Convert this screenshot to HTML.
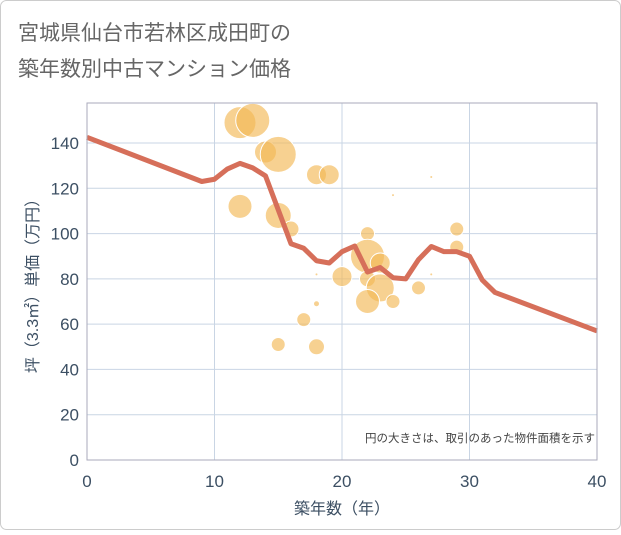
<!DOCTYPE html>
<html><head><meta charset="utf-8"><style>
body{margin:0;background:#fff;}
svg{font-family:"Liberation Sans","Noto Sans CJK JP",sans-serif;}
</style></head><body>
<svg width="621" height="530">
<rect x="0.5" y="0.5" width="620" height="529" rx="6" fill="#fff" stroke="#ccc"/>
<text x="18" y="40" font-size="21" fill="#666">宮城県仙台市若林区成田町の</text>
<text x="18" y="76" font-size="21" fill="#666">築年数別中古マンション価格</text>
<g id="grid"></g>
<g id="bubbles"></g>
<g id="line"></g>
<g id="axes"></g>
<text x="595" y="442" font-size="11.5" fill="#444" text-anchor="end">円の大きさは、取引のあった物件面積を示す</text>
<text x="342" y="514" font-size="16" fill="#3c4f63" text-anchor="middle">築年数（年）</text>
<text transform="translate(38,282) rotate(-90)" font-size="16" fill="#3c4f63" text-anchor="middle">坪（3.3㎡）単価（万円）</text>
</svg>
<script>
const xTicks=[0,10,20,30,40];
const yTicks=[0,20,40,60,80,100,120,140];
const lineX=[0,9,10,11,12,13,14,16,17,18,19,20,21,22,23,24,25,26,27,28,29,30,31,32,40];
const lineY=[142.5,123,124,128.5,131,129,125.5,95.5,93.5,88,87,92,94.5,83,85,80.5,80,88.5,94.3,92,92,90,79.5,74,57];
const bubX=[12,13,14,15,18,19,12,15,16,22,29,29,22,23,20,22,23,22,24,26,17,15,18,18,18,24,27,27];
const bubY=[149,150,136,135,126,126,112,108,102,100,102,94,90,87,81,80,76,70,70,76,62,51,50,69,82,117,125,82];
const bubR=[16,17,11,18,10,10,12,13,8,7,7,7,17,10,10,8,14,12,7,7,7,7,8,2.5,1,1,1,1];
const X0=87,X1=597,Y0=460,Ytop=103;
const sx=v=>X0+v*(X1-X0)/40;
const sy=v=>Y0-v*(460-143)/140;
const NS="http://www.w3.org/2000/svg";
function mk(t,a,p){const e=document.createElementNS(NS,t);for(const k in a)e.setAttribute(k,a[k]);p.appendChild(e);return e;}
const g=document.getElementById('grid'),ax=document.getElementById('axes');
yTicks.forEach(v=>{const l=mk('line',{x1:X0,x2:X1,y1:sy(v),y2:sy(v),stroke:'#c9d5e4','stroke-width':1},g);


const t=mk('text',{x:X0-8,y:sy(v)+6,'font-size':17,fill:'#3c4f63','text-anchor':'end'},ax);t.textContent=v;

});
xTicks.forEach(v=>{const l=mk('line',{x1:sx(v),x2:sx(v),y1:Ytop,y2:Y0,stroke:'#c9d5e4','stroke-width':1},g);


const t=mk('text',{x:sx(v),y:Y0+27,'font-size':17,fill:'#3c4f63','text-anchor':'middle'},ax);t.textContent=v;

});
const fr=mk('rect',{x:X0,y:Ytop,width:X1-X0,height:Y0-Ytop,fill:'none',stroke:'#aab','stroke-width':1},ax);


const b=document.getElementById('bubbles');
bubX.forEach((v,i)=>{const c=mk('circle',{cx:sx(v),cy:sy(bubY[i]),r:bubR[i],fill:'#f2b856','fill-opacity':0.65,stroke:'#fff','stroke-width':bubR[i]>3?1:0},b);

});
const pts=lineX.map((v,i)=>sx(v)+','+sy(lineY[i])).join(' ');
const pl=mk('polyline',{points:pts,fill:'none',stroke:'#d66f5a','stroke-width':5,'stroke-linejoin':'round'},document.getElementById('line'));


</script>
</body></html>
